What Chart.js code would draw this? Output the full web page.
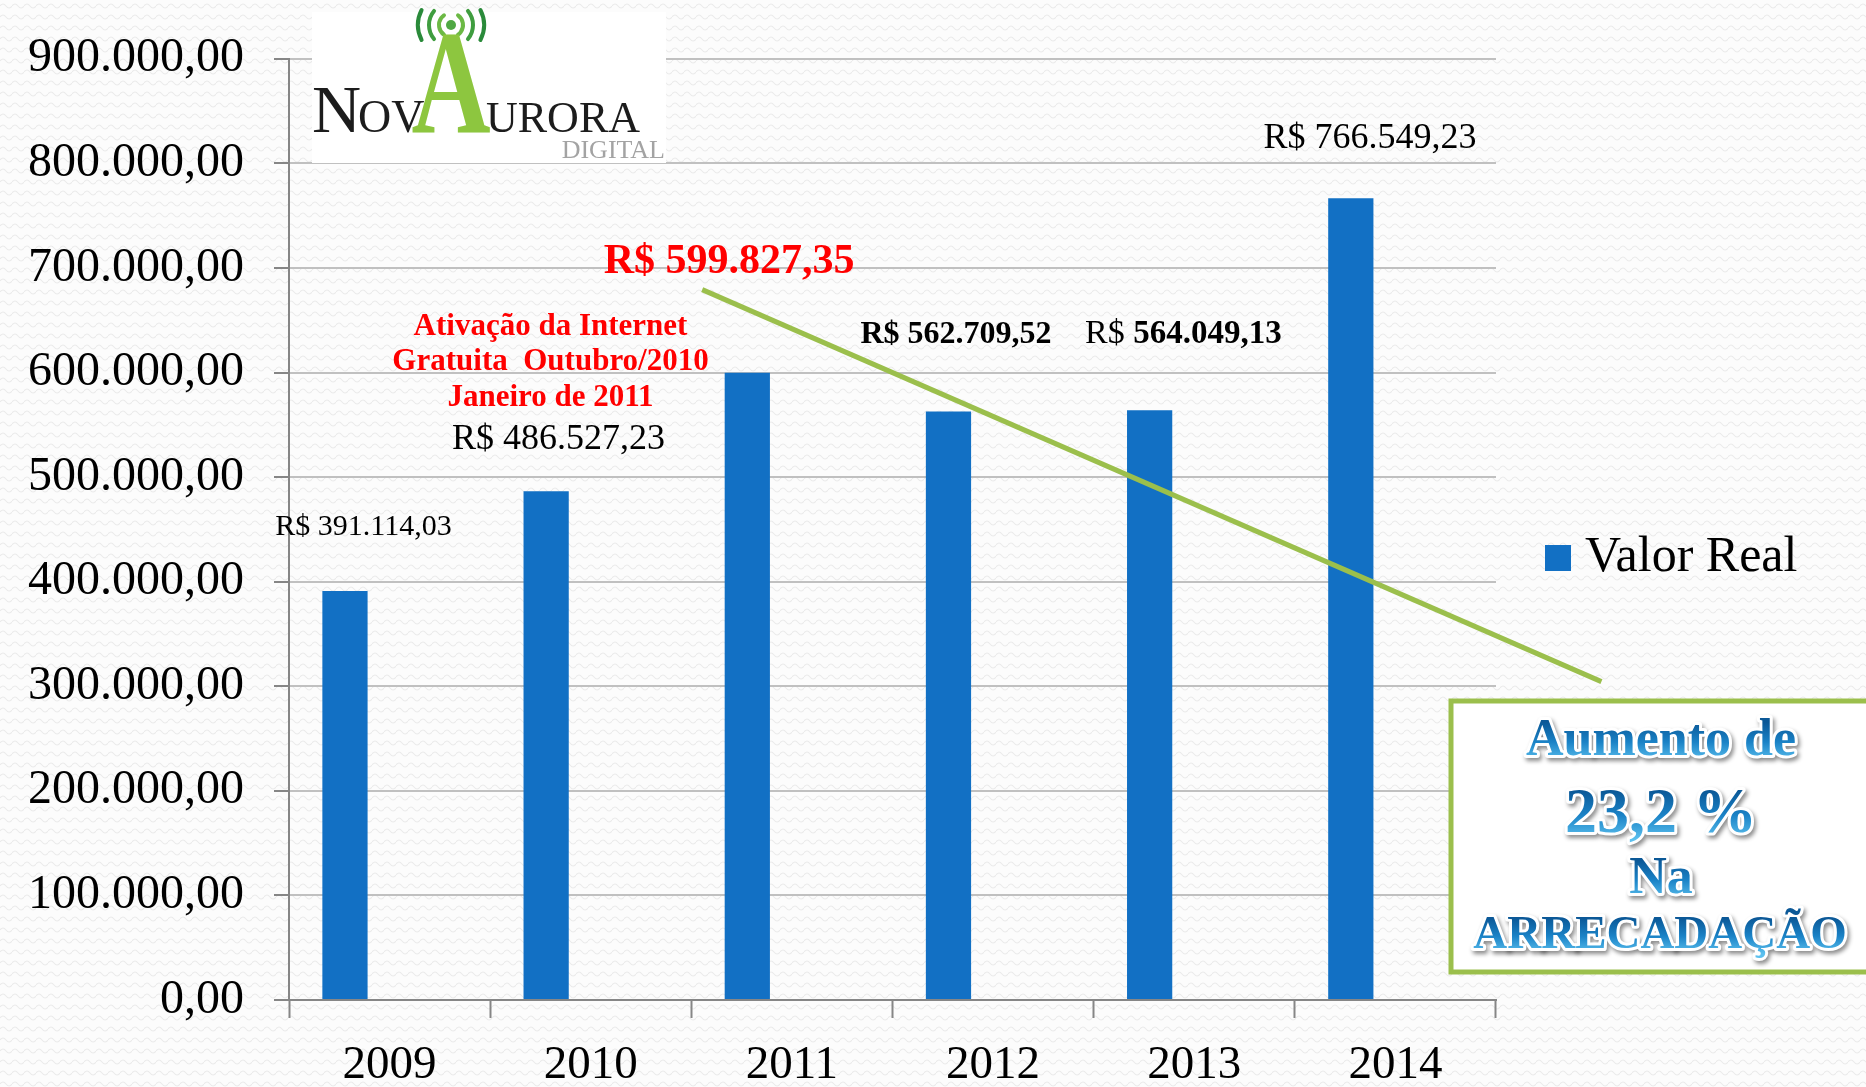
<!DOCTYPE html>
<html lang="pt-BR">
<head>
<meta charset="utf-8">
<title>Valor Real 2009 - 2014</title>
<script src="https://cdn.jsdelivr.net/npm/chart.js@4.4.1/dist/chart.umd.min.js"></script>
<style>
  html, body { margin: 0; padding: 0; }
  body {
    width: 1866px; height: 1087px; overflow: hidden;
    background-color: #fcfcfc;
    background-image: url("data:image/svg+xml;utf8,%3Csvg xmlns='http://www.w3.org/2000/svg' width='12' height='11'%3E%3Cpath d='M0 6 Q3 2 6 6 T12 6' fill='none' stroke='%23ebebeb' stroke-width='1.2'/%3E%3C/svg%3E");
  }
  #wrap { position: relative; width: 1866px; height: 1087px; }
</style>
</head>
<body>
<div id="wrap"><canvas id="grafico"></canvas></div>
<script>
// dados
const anos = ["2009", "2010", "2011", "2012", "2013", "2014"];
const valorReal = [391114.03, 486527.23, 599827.35, 562709.52, 564049.13, 766549.23];
const serieVazia = [null, null, null, null, null, null]; // 2a serie vazia do Excel (desloca as barras)
const ticksY = [0, 100000, 200000, 300000, 400000, 500000, 600000, 700000, 800000, 900000];
const rotulosY = ["0,00", "100.000,00", "200.000,00", "300.000,00", "400.000,00",
  "500.000,00", "600.000,00", "700.000,00", "800.000,00", "900.000,00"];

const AZUL = "#1270c4";
const VERDE = "#9bbf4c";
const SERIF = "'Liberation Serif', 'Times New Roman', serif";

function brl(v) {
  const [inteiro, dec] = v.toFixed(2).split(".");
  return inteiro.replace(/\B(?=(\d{3})+(?!\d))/g, ".") + "," + dec;
}

// anotacoes posicionadas em coordenadas de dados (indice da categoria, valor)
const notas = [
  { x: -0.13, y: 452000, cor: "#000", partes: [{ t: "R$ " + brl(valorReal[0]), f: "30px " + SERIF }] },
  { x: 0.84, y: 535600, cor: "#000", partes: [{ t: "R$ " + brl(valorReal[1]), f: "36px " + SERIF }] },
  { x: 0.80, y: 643100, cor: "#ff0000", partes: [{ t: "Ativação da Internet", f: "bold 31px " + SERIF }] },
  { x: 0.80, y: 609800, cor: "#ff0000", partes: [{ t: "Gratuita  Outubro/2010", f: "bold 31px " + SERIF }] },
  { x: 0.80, y: 575600, cor: "#ff0000", partes: [{ t: "Janeiro de 2011", f: "bold 31px " + SERIF }] },
  { x: 1.688, y: 705900, cor: "#ff0000", partes: [{ t: "R$ " + brl(valorReal[2]), f: "bold 42px " + SERIF }] },
  { x: 2.816, y: 636500, cor: "#000", partes: [{ t: "R$ " + brl(valorReal[3]), f: "bold 32px " + SERIF }] },
  { x: 3.946, y: 636500, cor: "#000", partes: [{ t: "R$ ", f: "34px " + SERIF }, { t: brl(valorReal[4]), f: "bold 33px " + SERIF }] },
  { x: 4.874, y: 823900, cor: "#000", partes: [{ t: "R$ " + brl(valorReal[5]), f: "36px " + SERIF }] }
];
const linhaVerde = { de: { x: 1.554, y: 679300 }, ate: { x: 6.024, y: 304400 } };

function desenhaLogo(ctx) {
  ctx.save();
  ctx.fillStyle = "#ffffff";
  ctx.fillRect(312, 12, 354, 151);

  // ondas de radio
  const cx = 451, cy = 25;
  ctx.lineCap = "round";
  [[12, "#6cb945", 0.30], [22, "#3f9d3f", 0.22], [33, "#2a8a3a", 0.15]].forEach(([r, c, a]) => {
    ctx.strokeStyle = c;
    ctx.lineWidth = 4;
    ctx.beginPath(); ctx.arc(cx, cy, r, Math.PI * (1 - a), Math.PI * (1 + a)); ctx.stroke();
    ctx.beginPath(); ctx.arc(cx, cy, r, -Math.PI * a, Math.PI * a); ctx.stroke();
  });
  ctx.fillStyle = "#4fa843";
  ctx.beginPath(); ctx.arc(cx, cy, 5, 0, Math.PI * 2); ctx.fill();

  // torre "A"
  ctx.save();
  ctx.translate(451, 132);
  ctx.scale(0.74, 1);
  ctx.fillStyle = "#8dc63f";
  ctx.font = "bold 148px " + SERIF;
  ctx.textAlign = "center";
  ctx.textBaseline = "alphabetic";
  ctx.fillText("A", 0, 0);
  ctx.restore();

  ctx.fillStyle = "#1c1c1c";
  ctx.textAlign = "left";
  ctx.textBaseline = "alphabetic";
  ctx.font = "68px " + SERIF;
  ctx.fillText("N", 312, 132);
  const wN = ctx.measureText("N").width;
  ctx.font = "46px " + SERIF;
  ctx.fillText("OV", 312 + wN - 3, 132);
  ctx.font = "44px " + SERIF;
  ctx.fillText("URORA", 486, 132);

  ctx.fillStyle = "#a3a3a3";
  ctx.font = "26px " + SERIF;
  ctx.textAlign = "right";
  ctx.fillText("DIGITAL", 665, 158);
  ctx.restore();
}

function textoWordArt(ctx, txt, x, y, size) {
  ctx.font = "bold " + size + "px " + SERIF;
  ctx.textAlign = "center";
  ctx.textBaseline = "middle";
  ctx.save();
  ctx.shadowColor = "rgba(0,0,0,0.45)";
  ctx.shadowOffsetX = 2;
  ctx.shadowOffsetY = 3;
  ctx.shadowBlur = 4;
  ctx.lineJoin = "round";
  ctx.lineWidth = 6;
  ctx.strokeStyle = "#ffffff";
  ctx.strokeText(txt, x, y);
  ctx.restore();
  const g = ctx.createLinearGradient(0, y - size * 0.38, 0, y + size * 0.38);
  g.addColorStop(0, "#0b5897");
  g.addColorStop(0.5, "#1a82c6");
  g.addColorStop(1, "#5cc0ee");
  ctx.fillStyle = g;
  ctx.fillText(txt, x, y);
}

const decoracao = {
  id: "decoracao",
  afterDraw(chart) {
    const ctx = chart.ctx;
    const sx = chart.scales.x, sy = chart.scales.y;

    desenhaLogo(ctx);

    // linha verde
    ctx.save();
    ctx.strokeStyle = VERDE;
    ctx.lineWidth = 5;
    ctx.beginPath();
    ctx.moveTo(sx.getPixelForValue(linhaVerde.de.x), sy.getPixelForValue(linhaVerde.de.y));
    ctx.lineTo(sx.getPixelForValue(linhaVerde.ate.x), sy.getPixelForValue(linhaVerde.ate.y));
    ctx.stroke();
    ctx.restore();

    // rotulos
    ctx.save();
    ctx.textBaseline = "middle";
    ctx.textAlign = "left";
    notas.forEach(n => {
      let total = 0;
      n.partes.forEach(p => { ctx.font = p.f; total += ctx.measureText(p.t).width; });
      let px = sx.getPixelForValue(n.x) - total / 2;
      const py = sy.getPixelForValue(n.y);
      ctx.fillStyle = n.cor;
      n.partes.forEach(p => { ctx.font = p.f; ctx.fillText(p.t, px, py); px += ctx.measureText(p.t).width; });
    });
    ctx.restore();

    // legenda
    const ds = chart.data.datasets[0];
    ctx.save();
    ctx.fillStyle = ds.backgroundColor;
    ctx.fillRect(1545, 545, 26, 26);
    ctx.fillStyle = "#000";
    ctx.font = "50px " + SERIF;
    ctx.textAlign = "left";
    ctx.textBaseline = "middle";
    ctx.fillText(ds.label, 1585, 558);
    ctx.restore();

    // caixa "Aumento de 23,2 %"
    ctx.save();
    ctx.fillStyle = "#ffffff";
    ctx.fillRect(1451, 701, 430, 271);
    ctx.strokeStyle = VERDE;
    ctx.lineWidth = 5;
    ctx.strokeRect(1451, 701, 430, 271);
    textoWordArt(ctx, "Aumento de", 1661, 742, 52);
    textoWordArt(ctx, "23,2 %", 1661, 815, 64);
    textoWordArt(ctx, "Na", 1661, 880, 52);
    textoWordArt(ctx, "ARRECADAÇÃO", 1660, 936, 47);
    ctx.restore();
  }
};

new Chart(document.getElementById("grafico"), {
  type: "bar",
  data: {
    labels: anos,
    datasets: [
      { label: "Valor Real", data: valorReal, backgroundColor: AZUL, categoryPercentage: 0.887, barPercentage: 0.507 },
      { label: "", data: serieVazia, backgroundColor: "rgba(0,0,0,0)", categoryPercentage: 0.887, barPercentage: 0.507 }
    ]
  },
  options: {
    responsive: true,
    maintainAspectRatio: false,
    animation: false,
    layout: { padding: { top: 54, right: 370, bottom: 0, left: 0 } },
    plugins: {
      legend: { display: false },
      tooltip: { enabled: false }
    },
    scales: {
      x: {
        offset: true,
        afterFit: s => { s.height = 87; },
        grid: { offset: true, drawOnChartArea: false, drawTicks: true, tickLength: 18, tickColor: "#868686", tickWidth: 2 },
        border: { display: true, color: "#868686", width: 2 },
        ticks: { color: "#000", font: { family: SERIF, size: 47 }, padding: 19, maxRotation: 0 }
      },
      y: {
        min: 0,
        max: 900000,
        afterFit: s => { s.width = 289; },
        afterBuildTicks: s => { s.ticks = ticksY.map(v => ({ value: v })); },
        grid: { color: "#c0c0c0", lineWidth: 2, tickLength: 15, tickColor: "#868686", tickWidth: 2 },
        border: { display: true, color: "#868686", width: 2 },
        ticks: {
          color: "#000",
          font: { family: SERIF, size: 48 },
          padding: 30,
          callback: v => rotulosY[ticksY.indexOf(v)]
        }
      }
    }
  },
  plugins: [decoracao]
});
</script>
</body>
</html>
